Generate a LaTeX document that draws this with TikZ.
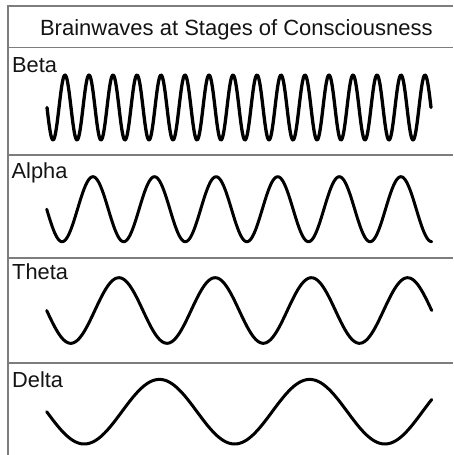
\documentclass[tikz,border=0pt]{standalone}
\usepackage{fontspec}
\setmainfont{Liberation Sans}
\definecolor{framegray}{RGB}{125,125,125}
\definecolor{textgray}{RGB}{20,20,20}
\begin{document}
\begin{tikzpicture}[x=1pt,y=-1pt,
  frame/.style={draw=framegray,line width=1.6pt},
  wave/.style={draw=black,line width=3pt,line join=round,line cap=round},
  lbl/.style={anchor=base west,inner sep=0pt,text=textgray,font=\fontsize{21.8}{25}\selectfont},
  ttl/.style={anchor=base,inner sep=0pt,text=textgray,font=\fontsize{22}{26}\selectfont}]
\useasboundingbox[fill=white] (0,0) rectangle (453,455);
% frame
\draw[frame] (453,6) -- (8,6) -- (8,455);
\draw[frame] (8,47.5) -- (453,47.5);
\draw[frame] (8,155) -- (453,155);
\draw[frame] (8,257.7) -- (453,257.7);
\draw[frame] (8,363) -- (453,363);
% title and labels
\node[ttl] (title) at (236.3,35) {Brainwaves at Stages of Consciousness};
\node[lbl] (beta) at (12,72.7) {Beta};
\node[lbl] (alpha) at (11.5,178.3) {Alpha};
\node[lbl] (theta) at (12,279) {Theta};
\node[lbl] (delta) at (12,387.3) {Delta};
% waves
\draw[wave,line width=3.3pt] plot[domain=47:431,samples=500,smooth] (\x,{107.5+32.5*sin(((\x-47)/24)*360)});
\draw[wave] plot[domain=46.7:431.7,samples=300,smooth] (\x,{209.2+32.5*sin(((\x-46.7)/61.6)*360)});
\draw[wave] plot[domain=46.7:431.7,samples=250,smooth] (\x,{310.5+32.8*sin(((\x-46.7)/96.25)*360)});
\draw[wave] plot[domain=46.7:431.7,samples=200,smooth] (\x,{411.7+32.3*sin(((\x-46.7)/150.3)*360)});
\end{tikzpicture}
\end{document}
